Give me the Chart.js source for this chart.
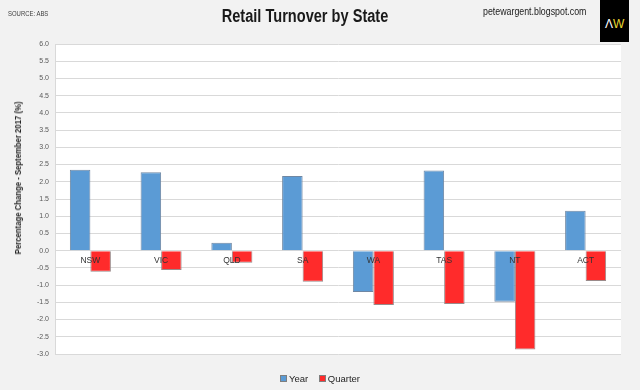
<!DOCTYPE html>
<html>
<head>
<meta charset="utf-8">
<script src="https://cdn.jsdelivr.net/npm/chart.js@4/dist/chart.umd.min.js"></script>
<style>
  html, body { margin: 0; padding: 0; background: #f2f2f2; }
  body { font-family: 'Liberation Sans', Arial, sans-serif; }
  #wrap { position: relative; width: 640px; height: 390px; overflow: hidden; }
  #chart { position: absolute; left: 0; top: 0; }
  .abs { position: absolute; white-space: nowrap; }
  #source { left: 8px; top: 10px; font-size: 7px; color: #404040; transform: scaleX(0.85); transform-origin: 0 0; }
  #title { left: 305px; top: 6px; font-size: 18px; font-weight: bold; color: #1a1a1a;
           transform: translateX(-50%) scaleX(0.81); }
  #site { left: 483px; top: 5px; font-size: 10.5px; color: #1a1a1a; transform: scaleX(0.84); transform-origin: 0 0; }
  #logo { left: 600px; top: 0; width: 29px; height: 42px; background: #000; }
  #logo .mark { position: absolute; left: 5px; top: 17px; font-size: 12px; }
  #ytitle { left: 18px; top: 178px; font-size: 9px; font-weight: bold; color: #262626;
            transform: translate(-50%, -50%) rotate(-90deg) scaleX(0.86); }
  #legend { left: 0; width: 640px; top: 373px; text-align: center; font-size: 9.5px; color: #262626; }
  #legend .item { display: inline-block; margin: 0 4px; }
  #legend .box { display: inline-block; width: 5px; height: 5px; margin-right: 2px; vertical-align: 0; border: 0.5px solid #7f7f7f; }
</style>
</head>
<body>
<div id="wrap">
  <canvas id="chart" width="640" height="390"></canvas>
  <div class="abs" id="source">SOURCE: ABS</div>
  <div class="abs" id="title">Retail Turnover by State</div>
  <div class="abs" id="site">petewargent.blogspot.com</div>
  <div class="abs" id="logo"><span class="mark"><span style="color:#fff">&Lambda;</span><span style="color:#e8d830">W</span></span></div>
  <div class="abs" id="ytitle">Percentage Change - September 2017 (%)</div>
  <div class="abs" id="legend">
    <span class="item"><span class="box" style="background:#5b9bd5"></span>Year</span>
    <span class="item"><span class="box" style="background:#ff2b2b"></span>Quarter</span>
  </div>
</div>
<script>
  // Data
  const states = ['NSW', 'VIC', 'QLD', 'SA', 'WA', 'TAS', 'NT', 'ACT'];
  const yearChange = [2.35, 2.28, 0.23, 2.17, -1.20, 2.33, -1.48, 1.16];
  const quarterChange = [-0.61, -0.56, -0.35, -0.90, -1.58, -1.55, -2.87, -0.88];

  const yMin = -3.0;
  const yMax = 6.0;
  const yStep = 0.5;

  Chart.defaults.font.family = "'Liberation Sans', Arial, sans-serif";

  // White plot area behind the grid
  const plotBackground = {
    id: 'plotBackground',
    beforeDraw(chart) {
      const { ctx, chartArea } = chart;
      ctx.save();
      ctx.fillStyle = '#ffffff';
      ctx.fillRect(chartArea.left, chartArea.top, chartArea.right - chartArea.left, chartArea.bottom - chartArea.top);
      ctx.restore();
    }
  };

  new Chart(document.getElementById('chart').getContext('2d'), {
    type: 'bar',
    data: {
      labels: states,
      datasets: [{
        label: 'Year',
        data: yearChange,
        backgroundColor: '#5b9bd5',
        borderColor: '#6f87a3',
        borderWidth: 1
      }, {
        label: 'Quarter',
        data: quarterChange,
        backgroundColor: '#ff2b2b',
        borderColor: '#9a8a8a',
        borderWidth: 1
      }]
    },
    options: {
      responsive: false,
      animation: false,
      maintainAspectRatio: false,
      layout: { padding: { left: 0, right: 19, top: 44, bottom: 36 } },
      datasets: { bar: { categoryPercentage: 0.58, barPercentage: 1.0 } },
      plugins: {
        legend: { display: false },
        tooltip: { enabled: false }
      },
      scales: {
        x: {
          position: { y: 0 },
          grid: { display: false, drawTicks: false },
          border: { display: false },
          // labels sit on top of the bars, like the reference
          ticks: { z: 1, color: '#333333', font: { size: 8.5 }, padding: 5, maxRotation: 0 }
        },
        y: {
          min: yMin,
          max: yMax,
          afterFit: scale => { scale.width = 55; },
          grid: { color: '#d9d9d9', drawTicks: false },
          border: { color: '#d9d9d9' },
          ticks: {
            stepSize: yStep,
            padding: 6,
            color: '#595959',
            font: { size: 7 },
            callback: value => Number(value).toFixed(1)
          }
        }
      }
    },
    plugins: [plotBackground]
  });
</script>
</body>
</html>
